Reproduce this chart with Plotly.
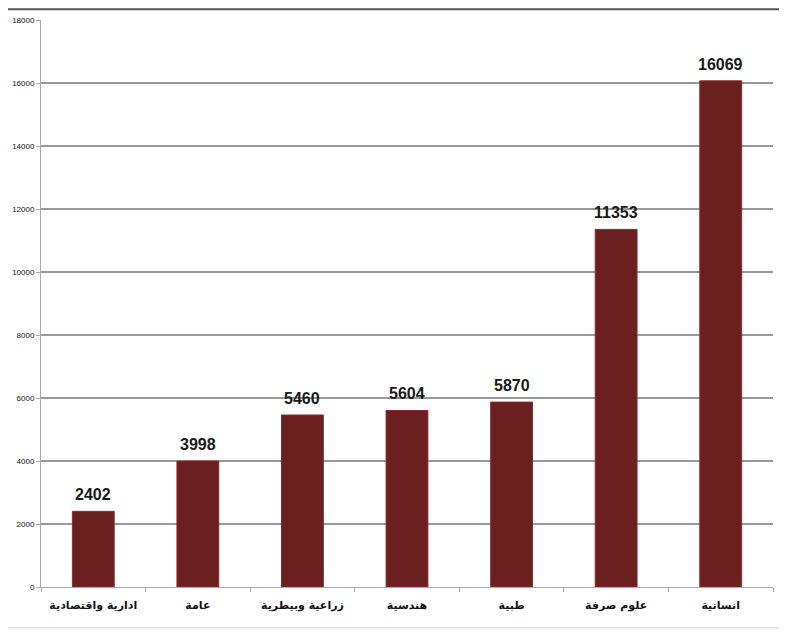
import plotly.graph_objects as go

categories = ["ادارية واقتصادية", "عامة", "زراعية وبيطرية", "هندسية", "طبية", "علوم صرفة", "انسانية"]
values = [2402, 3998, 5460, 5604, 5870, 11353, 16069]
y_ticks = [0, 2000, 4000, 6000, 8000, 10000, 12000, 14000, 16000, 18000]

fig = go.Figure()
fig.add_trace(go.Bar(
    x=categories, y=values,
    marker=dict(color="#6B2020", line=dict(color="#8A2A2A", width=1)),
    width=0.4,
    hoverinfo="x+y",
))

for c, v in zip(categories, values):
    fig.add_annotation(x=c, y=v, text=f"<b>{v}</b>", showarrow=False,
                       yanchor="bottom", yshift=6,
                       font=dict(family="Liberation Sans Narrow, Liberation Sans, Arial", size=16, color="#1a1a1a"))

fig.update_layout(
    width=779, height=624,
    margin=dict(l=33, r=14, t=12, b=45),
    paper_bgcolor="white", plot_bgcolor="white",
    showlegend=False,
    xaxis=dict(
        showline=True, linecolor="#aaaaaa", linewidth=1,
        ticks="outside", tickson="boundaries", ticklen=4, tickcolor="#aaaaaa",
        tickfont=dict(family="DejaVu Sans", size=11, color="#111111", weight="bold"),
        ticklabelstandoff=8,
        showgrid=False, automargin=False, tickangle=0,
    ),
    yaxis=dict(
        range=[0, 18000], tickvals=y_ticks, tickformat="d",
        showline=True, linecolor="#aaaaaa", linewidth=1,
        ticks="outside", ticklen=4, tickcolor="#aaaaaa",
        tickfont=dict(family="Liberation Sans", size=8, color="#111111"),
        showgrid=True, gridcolor="#999999", gridwidth=1.5,
        zeroline=False, automargin=False,
    ),
    shapes=[
        dict(type="line", xref="paper", yref="paper", x0=-0.05, x1=1.03, y0=1.019, y1=1.019,
             line=dict(color="#555555", width=2)),
        dict(type="line", xref="paper", yref="paper", x0=-0.05, x1=1.03, y0=-0.072, y1=-0.072,
             line=dict(color="#cccccc", width=1)),
    ],
)
fig.write_html("out.html")
